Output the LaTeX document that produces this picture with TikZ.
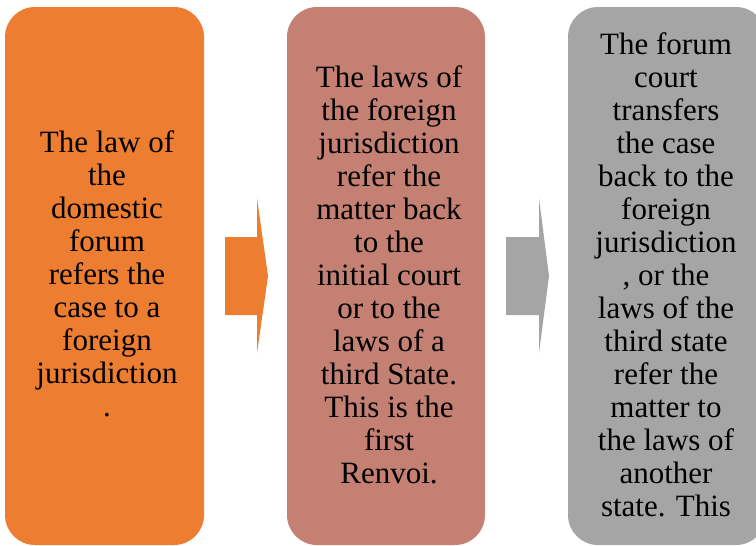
\documentclass[tikz,border=0pt]{standalone}
\usepackage{fontspec}
\setmainfont{Liberation Serif}
\definecolor{cOrange}{HTML}{ED7D31}
\definecolor{cRose}{HTML}{C48072}
\definecolor{cGray}{HTML}{A5A5A5}
\tikzset{
  stepbox/.style={rounded corners=30pt},
  txt/.style={anchor=north, inner sep=0pt, align=center, font=\fontsize{31}{33}\selectfont, text=black},
  chevarrow/.style={draw=none}
}
\begin{document}
\begin{tikzpicture}[x=1pt,y=-1pt]
\useasboundingbox (0,0) rectangle (756,546);
\clip (0,0) rectangle (756,546);
\fill[cOrange, stepbox] (5,7) rectangle (204,545);
\fill[cRose, stepbox] (287,7) rectangle (485,545);
\fill[cGray, stepbox] (568,7) rectangle (766,545);
\fill[cOrange] (225,237) -- (257,237) -- (257,198) -- (268,276) -- (257,353) -- (257,315) -- (225,315) -- cycle;
\fill[cGray] (506,237) -- (539,237) -- (539,198) -- (549,276) -- (539,353) -- (539,315) -- (506,315) -- cycle;
\node[txt] (t1) at (107,130) {The law of\\the\\domestic\\forum\\refers the\\case to a\\foreign\\jurisdiction\\.};
\node[txt] (t2) at (389,65) {The laws of\\the foreign\\jurisdiction\\refer the\\matter back\\to the\\initial court\\or to the\\laws of a\\third State.\\This is the\\first\\Renvoi.};
\node[txt] (t3) at (666,32) {The forum\\court\\transfers\\the case\\back to the\\foreign\\jurisdiction\\, or the\\laws of the\\third state\\refer the\\matter to\\the laws of\\another\\state. This};
\end{tikzpicture}
\end{document}
